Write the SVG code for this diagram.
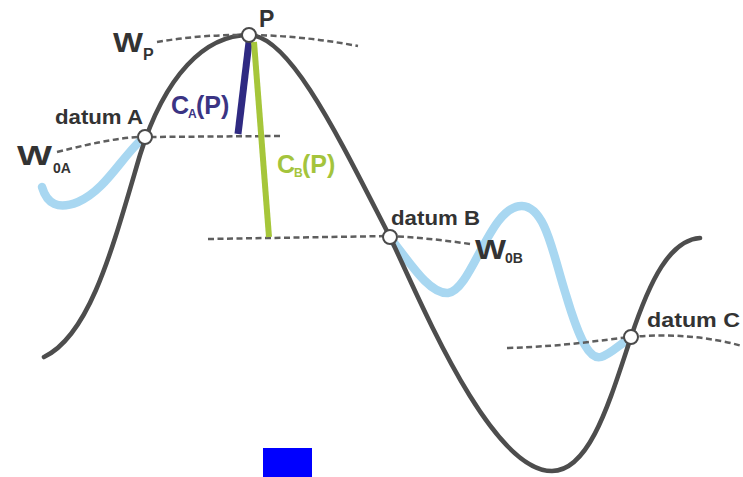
<svg xmlns="http://www.w3.org/2000/svg" width="743" height="477" viewBox="0 0 743 477">
<style>
.main{fill:none;stroke:#4d4d4d;stroke-width:4.6;stroke-linecap:round}
.dash{fill:none;stroke:#5e5e5e;stroke-width:2.5;stroke-dasharray:6 3.5}
.blue{fill:none;stroke:#a8d7f1;stroke-width:8.5;stroke-linecap:round;stroke-linejoin:round}
.pt{fill:#fff;stroke:#4a4a4a;stroke-width:2}
.lbl{font-family:"Liberation Sans",Arial,sans-serif;font-weight:bold;fill:#333}
.big{font-size:28px}
.sub{font-size:14px}
.dat{font-size:20px}
.ca{fill:#3b3484}
.cb{fill:#a4c43c}
</style>
<rect width="743" height="477" fill="#fff"/>
<g id="curves">
<path class="blue" d="M42,187 C47,204 58,210 78,202 C104,191 120,160 140,141"/>
<path class="blue" d="M392,240 C412,266 430,294 448,293 C472,290 490,205 522,206 C546,207 553,255 566,295 C580,342 590,360 601,357 C611,354 620,344 629,339"/>
<path class="main" d="M44,357 C90,335 112,250 140,155 C165,75 205,35 249,35 C290,35 340,140 390,237 C420,300 490,471 552,471 C590,471 610,400 631,337 C650,280 670,240 700,238"/>
</g>
<g id="connectors">
<path class="dash" d="M157,42 Q250,26 358,46"/>
<path class="dash" d="M57,152 Q120,136 145,137 L280,136"/>
<path class="dash" d="M208,239 L390,236 Q430,238 470,244"/>
<path class="dash" d="M507,348 C570,346 600,340 631,337 C670,333 710,337 742,346"/>
<line x1="249" y1="42" x2="238" y2="134" stroke="#2f2a82" stroke-width="7"/>
<line x1="254" y1="42" x2="269" y2="237" stroke="#a6c63a" stroke-width="6"/>
</g>
<g id="node-P">
<circle class="pt" cx="249" cy="35" r="7"/>
<text class="lbl" x="259" y="27" font-size="23">P</text>
</g>
<g id="label-WP">
<text class="lbl big" x="113" y="52" textLength="30" lengthAdjust="spacingAndGlyphs">W</text>
<text class="lbl" x="143" y="60" font-size="16">P</text>
</g>
<g id="node-A">
<circle class="pt" cx="145" cy="137" r="7"/>
<text class="lbl dat" x="55" y="124" textLength="88" lengthAdjust="spacingAndGlyphs">datum A</text>
</g>
<g id="label-W0A">
<text class="lbl big" x="17" y="165" textLength="35" lengthAdjust="spacingAndGlyphs">W</text>
<text class="lbl sub" x="53" y="173">0A</text>
</g>
<g id="node-B">
<circle class="pt" cx="390" cy="237" r="7"/>
<text class="lbl dat" x="391" y="225" textLength="89" lengthAdjust="spacingAndGlyphs">datum B</text>
</g>
<g id="label-W0B">
<text class="lbl big" x="475" y="259" textLength="31" lengthAdjust="spacingAndGlyphs">W</text>
<text class="lbl sub" x="505" y="263">0B</text>
</g>
<g id="node-C">
<circle class="pt" cx="631" cy="337" r="7"/>
<text class="lbl dat" x="647" y="327" textLength="93" lengthAdjust="spacingAndGlyphs">datum C</text>
</g>
<g id="label-CA">
<text class="lbl ca" x="171" y="114" font-size="25">C</text>
<text class="lbl ca" x="188" y="118" font-size="12">A</text>
<text class="lbl ca" x="196" y="114" font-size="25">(P)</text>
</g>
<g id="label-CB">
<text class="lbl cb" x="277" y="173" font-size="25">C</text>
<text class="lbl cb" x="294" y="177" font-size="12">B</text>
<text class="lbl cb" x="302" y="173" font-size="25">(P)</text>
</g>
<rect id="blue-box" x="263" y="448" width="49" height="29" fill="#0000ff"/>
</svg>
